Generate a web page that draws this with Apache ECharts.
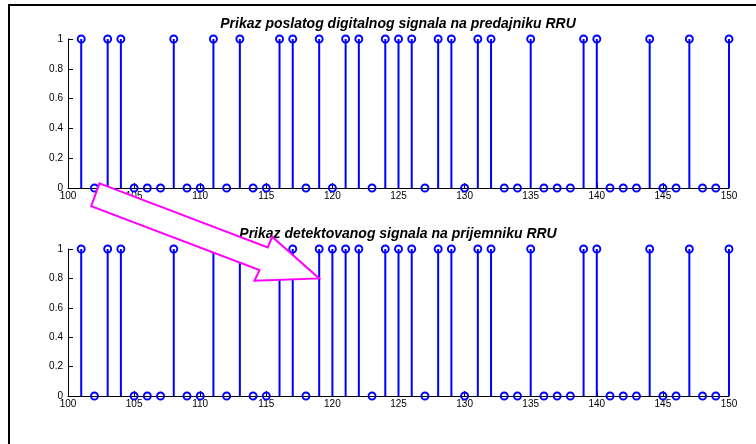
<!DOCTYPE html>
<html>
<head>
<meta charset="utf-8">
<script src="https://cdn.jsdelivr.net/npm/echarts@6/dist/echarts.min.js"></script>
<style>
  html, body { margin: 0; padding: 0; background: #fff; }
  #chart { width: 756px; height: 444px; }
</style>
</head>
<body>
<div id="chart"></div>
<script>
// Sample index (discrete time n)
const samples = [101,102,103,104,105,106,107,108,109,110,
                 111,112,113,114,115,116,117,118,119,120,
                 121,122,123,124,125,126,127,128,129,130,
                 131,132,133,134,135,136,137,138,139,140,
                 141,142,143,144,145,146,147,148,149,150];

// Bits sent by the transmitter
const sentBits = [1,0,1,1,0,0,0,1,0,0,
                  1,0,1,0,0,1,1,0,1,0,
                  1,1,0,1,1,1,0,1,1,0,
                  1,1,0,0,1,0,0,0,1,1,
                  0,0,0,1,0,0,1,0,0,1];

// Bits detected at the receiver
const receivedBits = [1,0,1,1,0,0,0,1,0,0,
                      1,0,1,0,0,1,1,0,1,1,
                      1,1,0,1,1,1,0,1,1,0,
                      1,1,0,0,1,0,0,0,1,1,
                      0,0,0,1,0,0,1,0,0,1];

const titles = ['Prikaz poslatog digitalnog signala na predajniku RRU',
                'Prikaz detektovanog signala na prijemniku RRU'];

const FONT = 'Liberation Sans, Arial, Helvetica, sans-serif';
const BLUE = '#0000ff';

function pairs(xs, ys) { return xs.map((x, i) => [x, ys[i]]); }

// stem: vertical line from the baseline to the value, open circle at the tip
function renderStem(params, api) {
  const x = api.value(0), y = api.value(1);
  const top = api.coord([x, y]);
  const base = api.coord([x, 0]);
  return {
    type: 'group',
    children: [
      { type: 'line', shape: { x1: base[0], y1: base[1], x2: top[0], y2: top[1] },
        style: { stroke: BLUE, lineWidth: 2 } },
      { type: 'circle', shape: { cx: top[0], cy: top[1], r: 3.5 },
        style: { fill: 'none', stroke: BLUE, lineWidth: 1.9 } }
    ]
  };
}

function xAxis(gridIndex) {
  return {
    type: 'value', gridIndex, min: 100, max: 150, interval: 5,
    axisLine: { show: true, onZero: false, lineStyle: { color: '#000', width: 1 } },
    axisTick: { show: true, inside: true, length: 5, lineStyle: { color: '#000' } },
    axisLabel: { color: '#000', fontFamily: FONT, fontSize: 10, margin: 3 },
    splitLine: { show: false }
  };
}
function yAxis(gridIndex) {
  return {
    type: 'value', gridIndex, min: 0, max: 1, interval: 0.2,
    axisLine: { show: true, lineStyle: { color: '#000', width: 1 } },
    axisTick: { show: true, inside: true, length: 5, lineStyle: { color: '#000' } },
    axisLabel: { color: '#000', fontFamily: FONT, fontSize: 10, margin: 5 },
    splitLine: { show: false }
  };
}

const chart = echarts.init(document.getElementById('chart'), null, { renderer: 'canvas' });

const option = {
  animation: false,
  backgroundColor: '#fff',
  title: [
    { text: titles[0], left: 398, top: 17, textAlign: 'center', padding: 0,
      textStyle: { fontFamily: FONT, fontSize: 14, fontWeight: 'bold', fontStyle: 'italic', color: '#000' } },
    { text: titles[1], left: 398, top: 227, textAlign: 'center', padding: 0,
      textStyle: { fontFamily: FONT, fontSize: 14, fontWeight: 'bold', fontStyle: 'italic', color: '#000' } }
  ],
  grid: [
    { left: 68, right: 27, top: 39, height: 149 },
    { left: 68, right: 27, top: 249, height: 147 }
  ],
  xAxis: [xAxis(0), xAxis(1)],
  yAxis: [yAxis(0), yAxis(1)],
  series: [
    { type: 'custom', xAxisIndex: 0, yAxisIndex: 0, renderItem: renderStem,
      data: pairs(samples, sentBits), clip: false, z: 3 },
    { type: 'custom', xAxisIndex: 1, yAxisIndex: 1, renderItem: renderStem,
      data: pairs(samples, receivedBits), clip: false, z: 3 }
  ]
};
chart.setOption(option);

// figure frame and the arrow pointing at the flipped bit (n = 120 lies right of the tip)
const tip = chart.convertToPixel({ gridIndex: 1 }, [119, 0.8]);
const arrowOffsets = [[-219.7, -95], [-51.4, -31], [-47, -41.6], [0, 0],
                      [-64.7, 2.4], [-59.7, -8.3], [-228, -72.3]];
chart.setOption({
  graphic: [
    { type: 'rect', shape: { x: 9, y: 5, width: 800, height: 500 },
      style: { fill: 'none', stroke: '#000', lineWidth: 2 }, z: 100 },
    { type: 'polygon',
      shape: { points: arrowOffsets.map(p => [tip[0] + p[0], tip[1] + p[1]]) },
      style: { fill: '#fff', stroke: '#ff00ff', lineWidth: 2, lineJoin: 'miter' }, z: 100 }
  ]
});
</script>
</body>
</html>
